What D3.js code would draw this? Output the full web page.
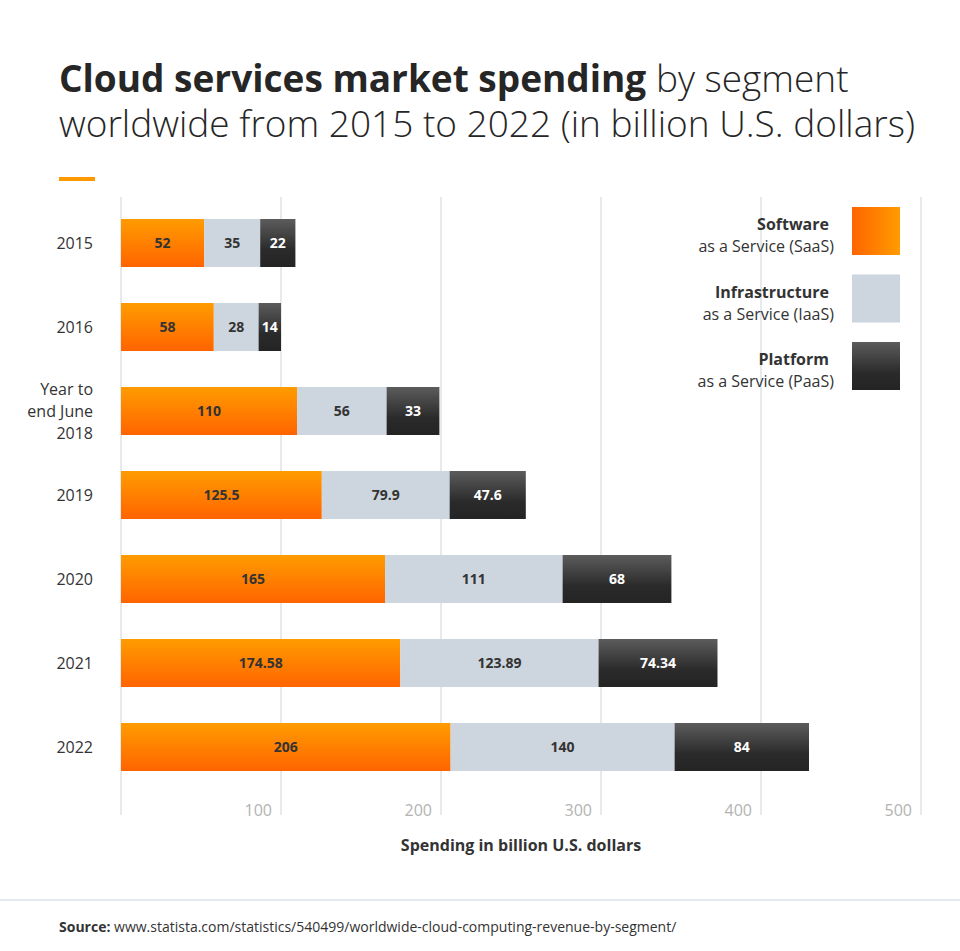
<!DOCTYPE html>
<html>
<head>
<meta charset="utf-8">
<script src="https://cdn.jsdelivr.net/npm/d3@7"></script>
<style>
  body { margin: 0; background: #fff; font-family: "Open Sans", sans-serif; }
  svg { display: block; }
</style>
</head>
<body>
<svg id="chart" width="960" height="951"></svg>
<script>
// chart data
const categories = ['2015', '2016', 'Year to end June 2018', '2019', '2020', '2021', '2022'];
const saas = [52, 58, 110, 125.5, 165, 174.58, 206];
const iaas = [35, 28, 56, 79.9, 111, 123.89, 140];
const paas = [22, 14, 33, 47.6, 68, 74.34, 84];
const seriesNames = ['saas', 'iaas', 'paas'];
const legendBold = ['Software', 'Infrastructure', 'Platform'];
const legendSub = ['as a Service (SaaS)', 'as a Service (IaaS)', 'as a Service (PaaS)'];
const xTicks = [100, 200, 300, 400, 500];

const svg = d3.select('#chart');
const defs = svg.append('defs');

// gradients
const gOrange = defs.append('linearGradient').attr('id', 'orangeV')
    .attr('x1', 0).attr('y1', 0).attr('x2', 0).attr('y2', 1);
gOrange.append('stop').attr('offset', '0%').attr('stop-color', '#ff9c00');
gOrange.append('stop').attr('offset', '100%').attr('stop-color', '#ff6400');

const gOrangeH = defs.append('linearGradient').attr('id', 'orangeH')
    .attr('x1', 0).attr('y1', 0).attr('x2', 1).attr('y2', 0);
gOrangeH.append('stop').attr('offset', '0%').attr('stop-color', '#ff6400');
gOrangeH.append('stop').attr('offset', '100%').attr('stop-color', '#ff9c00');

const gDark = defs.append('linearGradient').attr('id', 'darkV')
    .attr('x1', 0).attr('y1', 0).attr('x2', 0).attr('y2', 1);
gDark.append('stop').attr('offset', '0%').attr('stop-color', '#5c5c5c');
gDark.append('stop').attr('offset', '65%').attr('stop-color', '#2a2a2a');
gDark.append('stop').attr('offset', '100%').attr('stop-color', '#242424');

const fills = { saas: 'url(#orangeV)', iaas: '#cdd5de', paas: 'url(#darkV)' };
const legendFills = ['url(#orangeH)', '#cdd5de', 'url(#darkV)'];
const labelColors = { saas: '#333', iaas: '#333', paas: '#fff' };

// title (one text element, two lines)
const title = svg.append('text').attr('fill', '#262626').style('font-size', '37px');
title.append('tspan').attr('x', 59).attr('y', 92).attr('font-weight', 700)
    .text('Cloud services market spending');
title.append('tspan').attr('font-weight', 300).text(' by segment');
title.append('tspan').attr('x', 59).attr('y', 137).attr('font-weight', 300)
    .text('worldwide from 2015 to 2022 (in billion U.S. dollars)');
svg.append('rect').attr('x', 59).attr('y', 177).attr('width', 36).attr('height', 4)
    .attr('fill', '#ff9900');

// scales
const x = d3.scaleLinear().domain([0, 500]).range([121, 921]);
const y = d3.scaleBand().domain(categories).range([197, 793])
    .paddingInner(36 / 84).paddingOuter(22 / 84);

// gridlines
svg.append('g').selectAll('line')
    .data([0].concat(xTicks))
    .enter().append('line')
    .attr('x1', d => x(d)).attr('x2', d => x(d))
    .attr('y1', 197).attr('y2', 815)
    .attr('stroke', '#ccd5e0').attr('stroke-width', 1);

// stacked bars
const rows = categories.map((c, i) => ({ cat: c, saas: saas[i], iaas: iaas[i], paas: paas[i] }));
const stack = d3.stack().keys(seriesNames)(rows);

stack.forEach(layer => {
    const key = layer.key;
    const g = svg.append('g');
    g.selectAll('rect')
        .data(layer)
        .enter().append('rect')
        .attr('x', d => x(d[0]))
        .attr('y', d => y(d.data.cat))
        .attr('width', d => x(d[1]) - x(d[0]))
        .attr('height', y.bandwidth())
        .attr('fill', fills[key]);
    g.selectAll('text')
        .data(layer)
        .enter().append('text')
        .attr('x', d => (x(d[0]) + x(d[1])) / 2)
        .attr('y', d => y(d.data.cat) + y.bandwidth() / 2)
        .attr('dy', '0.35em')
        .attr('text-anchor', 'middle')
        .attr('font-weight', 700)
        .style('font-size', '14px')
        .attr('fill', labelColors[key])
        .text(d => d.data[key]);
});

// category labels
categories.forEach(c => {
    const cy = y(c) + y.bandwidth() / 2;
    const lines = c === 'Year to end June 2018' ? ['Year to', 'end June', '2018'] : [c];
    const t = svg.append('text').attr('text-anchor', 'end').attr('fill', '#333')
        .style('font-size', '16px');
    lines.forEach((ln, j) => {
        t.append('tspan').attr('x', 93)
            .attr('y', cy + (j - (lines.length - 1) / 2) * 22)
            .attr('dy', '0.35em').text(ln);
    });
});

// x tick labels
svg.append('g').selectAll('text')
    .data(xTicks)
    .enter().append('text')
    .attr('x', d => x(d) - 9)
    .attr('y', 816)
    .attr('text-anchor', 'end')
    .attr('fill', '#b3b3b3')
    .style('font-size', '16px')
    .text(d => d);

// axis title
svg.append('text').attr('x', x(250)).attr('y', 851)
    .attr('text-anchor', 'middle').attr('font-weight', 700).attr('fill', '#333')
    .style('font-size', '16px').text('Spending in billion U.S. dollars');

// legend
legendBold.forEach((b, i) => {
    const top = 207 + i * 67.5;
    svg.append('rect').attr('x', 852).attr('y', top).attr('width', 48).attr('height', 48)
        .attr('fill', legendFills[i]);
    svg.append('text').attr('x', 829).attr('y', top + 23).attr('text-anchor', 'end')
        .attr('font-weight', 700).attr('fill', '#333').style('font-size', '16px').text(b);
    svg.append('text').attr('x', 834).attr('y', top + 45).attr('text-anchor', 'end')
        .attr('fill', '#333').style('font-size', '16px').text(legendSub[i]);
});

// source footer
svg.append('line').attr('x1', 0).attr('x2', 960).attr('y1', 900).attr('y2', 900)
    .attr('stroke', '#ccd5e0');
const src = svg.append('text').attr('x', 59).attr('y', 932).attr('fill', '#333')
    .style('font-size', '14px');
src.append('tspan').attr('font-weight', 700).text('Source:');
src.append('tspan').text(' www.statista.com/statistics/540499/worldwide-cloud-computing-revenue-by-segment/');
</script>
</body>
</html>
